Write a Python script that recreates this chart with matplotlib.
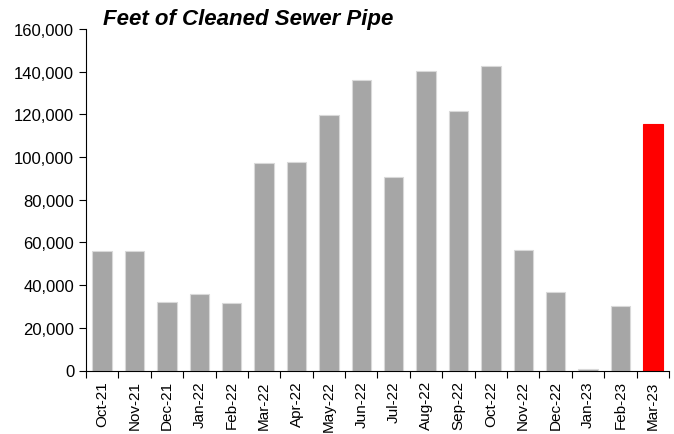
import numpy as np
import matplotlib.pyplot as plt
from matplotlib.ticker import FuncFormatter, FixedLocator

months = ['Oct-21', 'Nov-21', 'Dec-21', 'Jan-22', 'Feb-22', 'Mar-22', 'Apr-22',
          'May-22', 'Jun-22', 'Jul-22', 'Aug-22', 'Sep-22', 'Oct-22', 'Nov-22',
          'Dec-22', 'Jan-23', 'Feb-23', 'Mar-23']
feet = [56000, 56000, 32000, 36000, 31500, 97000, 97500,
        119500, 136000, 90500, 140200, 121500, 142500, 56500,
        37000, 500, 30000, 115700]

plt.rcParams['font.family'] = ['Liberation Sans', 'DejaVu Sans']

fig = plt.figure(figsize=(6.74, 4.35), dpi=100)
ax = fig.add_axes([86 / 674, 1 - 371.5 / 435, (669 - 86) / 674, (371.5 - 30) / 435])

x = np.arange(len(months))
colors = ['#A6A6A6'] * (len(months) - 1) + ['#FF0000']
edges = ['#D9D9D9'] * (len(months) - 1) + ['#FF0000']
ax.bar(x, feet, width=0.6, color=colors, edgecolor=edges, linewidth=0.8)

ax.set_xlim(-0.5, len(months) - 0.5)
ax.set_ylim(0, 160000)
ax.set_yticks(np.arange(0, 160001, 20000))
ax.yaxis.set_major_formatter(FuncFormatter(lambda v, p: f'{int(v):,}'))
ax.tick_params(axis='y', labelsize=12, length=5, direction='out', width=0.8)

# month labels in the middle, tick marks between categories
ax.set_xticks(x)
ax.set_xticklabels(months, rotation=90, fontsize=11)
ax.tick_params(axis='x', which='major', length=0, pad=7)
ax.xaxis.set_minor_locator(FixedLocator(np.arange(-0.5, len(months), 1)))
ax.tick_params(axis='x', which='minor', length=5, direction='out', width=0.8)

for s in ['top', 'right']:
    ax.spines[s].set_visible(False)
ax.spines['left'].set_linewidth(0.8)
ax.spines['bottom'].set_linewidth(0.8)

fig.text(103 / 674, 1 - 20 / 435, 'Feet of Cleaned Sewer Pipe', fontsize=16,
         fontweight='bold', fontstyle='italic', ha='left', va='center')

fig.savefig('out.png', dpi=100)
